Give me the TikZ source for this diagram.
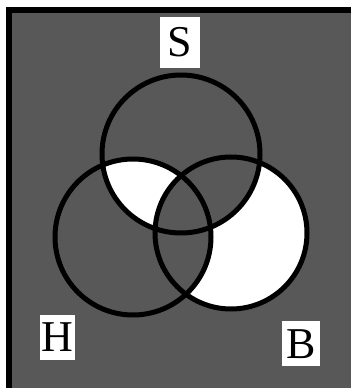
\documentclass[tikz,border=0pt]{standalone}
\usepackage{fontspec}
\setmainfont{Liberation Serif}
\usepackage{xcolor}
\usepackage{tikz}
\usetikzlibrary{positioning}
\definecolor{dotgray}{RGB}{88, 88, 88}
\tikzstyle{setlabel} = [
    rectangle,
    fill=white,
    inner sep=0pt,
    text centered,
    font=\fontsize{44}{44}\selectfont
]
\tikzstyle{ring} = [
    draw=black,
    line width=5pt
]

\begin{document}
\begin{tikzpicture}[x=1pt, y=1pt]
        \useasboundingbox (0, 0) rectangle (351, 388);
        % Frame
        \fill[black] (6, 0) rectangle (351, 381);
        \fill[dotgray] (12, 0) rectangle (351, 375);

        % Set centres
        \coordinate (s) at (181, 234);
        \coordinate (h) at (133, 151);
        \coordinate (b) at (231, 155);

        % Regions
        \fill[white] (b) circle (76);
        \fill[dotgray] (s) circle (79);
        \fill[dotgray] (h) circle (78);
        \begin{scope}
            \clip (s) circle (79);
            \fill[white] (h) circle (78);
            \clip (h) circle (78);
            \fill[dotgray] (b) circle (76);
        \end{scope}

        % Circles
        \draw[ring] (s) circle (79);
        \draw[ring] (h) circle (78);
        \draw[ring] (b) circle (76);

        % Labels
        \node[setlabel, minimum width=40, minimum height=51] (lblS) at (180, 345.5) {S};
        \node[setlabel, minimum width=35, minimum height=45] (lblH) at (57.5, 50.5) {H};
        \node[setlabel, minimum width=38, minimum height=45] (lblB) at (301, 44) {B};
    \end{tikzpicture}
\end{document}
